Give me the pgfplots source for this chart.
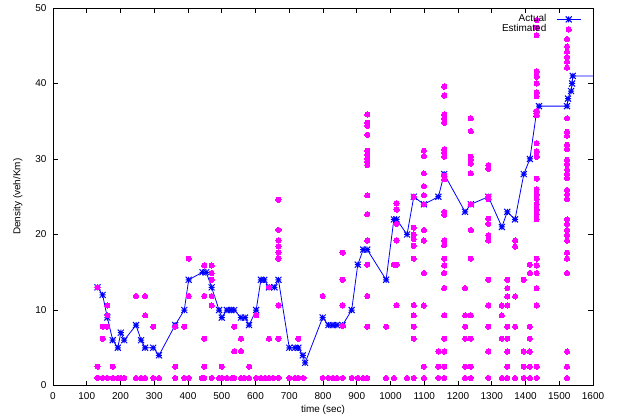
\documentclass[border=0pt]{standalone}
\usepackage{fontspec}
\setmainfont{Liberation Sans}
\usepackage{pgfplots}
\pgfplotsset{compat=1.18}
\definecolor{gpblue}{RGB}{0,0,255}
\definecolor{gpmag}{RGB}{255,0,255}
\pgfdeclareplotmark{gpstar}{%
  \pgfpathmoveto{\pgfqpoint{-\pgfplotmarksize}{0pt}}%
  \pgfpathlineto{\pgfqpoint{\pgfplotmarksize}{0pt}}%
  \pgfpathmoveto{\pgfqpoint{0pt}{-\pgfplotmarksize}}%
  \pgfpathlineto{\pgfqpoint{0pt}{\pgfplotmarksize}}%
  \pgfpathmoveto{\pgfqpoint{-\pgfplotmarksize}{-\pgfplotmarksize}}%
  \pgfpathlineto{\pgfqpoint{\pgfplotmarksize}{\pgfplotmarksize}}%
  \pgfpathmoveto{\pgfqpoint{-\pgfplotmarksize}{\pgfplotmarksize}}%
  \pgfpathlineto{\pgfqpoint{\pgfplotmarksize}{-\pgfplotmarksize}}%
  \pgfusepathqstroke}
\begin{document}
\begin{tikzpicture}[font=\fontsize{10pt}{12pt}\selectfont]
\begin{axis}[
  at={(0,0)}, anchor=south west,
  scale only axis, width=540bp, height=377.5bp,
  xmin=0, xmax=1600, ymin=0, ymax=50,
  xtick={0,100,...,1600}, ytick={0,10,...,50},
  tick align=inside, major tick length=5bp,
  axis line style={black, line width=0.8bp},
  tick style={black, line width=0.6bp},
  /pgf/number format/assume math mode=true,
  /pgf/number format/1000 sep={},
  xticklabel style={anchor=north, inner sep=0pt, yshift=-6.5bp},
  yticklabel style={anchor=east, inner sep=0pt, xshift=-6.3bp},
  xlabel={time (sec)}, ylabel={Density (veh/Km)},
  every axis x label/.style={at={(axis description cs:0.5,-0.0649)}, anchor=center},
  every axis y label/.style={at={(axis description cs:-0.0654,0.5)}, rotate=90, anchor=center},
  legend style={draw=none, fill=none, at={(axis description cs:0.978,0.983)}, anchor=north east,
    inner sep=0pt, outer sep=0pt, row sep=0pt, column sep=10bp,
    nodes={inner sep=0pt, text height=7bp, text depth=3bp},
    font=\fontsize{10pt}{12pt}\selectfont},
  legend cell align=right, legend plot pos=right,
  legend image code/.code={\draw[mark repeat=2,mark phase=2] plot coordinates {(0bp,0bp)(12bp,0bp)(24bp,0bp)};},
]
\addplot[gpblue, line width=0.8bp, mark=gpstar, mark size=3bp, mark options={solid, line width=1bp}] table {
t v
132 13
147 12
161 9
177 6
192 5
201 7
211 6
246 8
261 6
273 5
297 5
314 4
362 8
389 10
402 14
443 15
454 15
470 13
492 10
500 9
515 10
527 10
537 10
557 9
569 9
581 8
602 10
616 14
626 14
640 13
656 13
668 14
700 5
717 5
727 5
740 4
747 3
799 9
816 8
829 8
841 8
858 8
885 10
903 16
919 18
931 18
987 14
1010 22
1018 22
1049 20
1069 25
1099 24
1142 25
1159 28
1221 23
1238 24
1290 25
1330 21
1346 23
1369 22
1395 28
1413 30
1432 36
1440 37
1523 37
1526 38
1535 39
1538 40
1540 41
1650 41
};
\addlegendentry{Actual}
\addplot[only marks, mark=*, mark size=2.6bp, gpmag, mark options={draw=gpmag, fill=gpmag, line width=0pt}] table {
t v
132 13
132 2.5
132 1
147 7.8
147 6.2
147 1
161 10.6
161 9.3
161 7.8
161 1
177 2.5
177 1
192 1
201 1
211 1
246 11.85
246 1
261 1
273 11.85
273 9.3
273 1
297 7.8
297 1
314 1
362 7.8
362 2.5
362 1
389 7.8
389 1
402 16.8
402 11.85
402 1
441 1
448 15.9
448 11.85
448 6.2
448 2.5
448 1
470 15.9
470 14.9
470 14.0
470 11.85
470 10.6
470 1
492 1
500 2.5
500 1
515 1
530 1
537 7.8
537 4.55
537 1
557 6.2
557 4.55
557 1
567 1
581 2.5
581 1
602 9.3
602 1
616 1
629 1
640 13
640 6.2
640 1
653 1
668 24.6
668 20.6
668 19.2
668 18.4
668 17.6
668 16.8
668 10.6
668 6.2
668 1
700 1
717 1
727 6.2
727 1
742 1
799 11.85
799 1
816 1
829 1
841 1
858 17.6
858 14.0
858 10.6
858 7.9
858 1
885 1
903 1
919 1
931 35.9
931 34.8
931 34.4
931 33.2
931 31.1
931 30.6
931 30.1
931 29.7
931 29.2
931 25.2
931 22.7
931 19.2
931 16.0
931 11.85
931 7.8
931 1
987 7.8
987 1
1010 16.0
1010 1
1018 24.1
1018 23.3
1018 21.4
1018 19.2
1018 16.0
1018 10.65
1049 1
1069 25
1069 20.9
1069 20.0
1069 19.4
1069 18.5
1069 16.8
1069 10.65
1069 9.3
1069 7.8
1069 6.2
1069 1
1099 31.1
1099 30.4
1099 28.1
1099 26.4
1099 25.2
1099 24.0
1099 20.6
1099 19.2
1099 14.9
1099 10.6
1099 2.5
1099 1
1142 4.5
1142 2.5
1142 1
1159 39.6
1159 38.4
1159 35.9
1159 35.4
1159 34.8
1159 31.3
1159 30.9
1159 30.3
1159 27.8
1159 27.3
1159 23.0
1159 22.6
1159 19.2
1159 18.6
1159 16.8
1159 15.9
1159 14.9
1159 12.9
1159 9.3
1159 6.2
1159 4.5
1159 2.5
1159 1
1221 12.9
1221 9.3
1221 7.8
1221 6.2
1221 2.5
1221 1
1238 35.4
1238 33.7
1238 30.3
1238 29.9
1238 29.4
1238 28.1
1238 24.0
1238 20.6
1238 16.8
1238 9.3
1238 6.2
1238 2.5
1238 1
1290 29.2
1290 28.7
1290 25.0
1290 24.7
1290 22.1
1290 21.4
1290 19.9
1290 19.2
1290 14.0
1290 10.6
1290 7.8
1290 4.5
1290 1
1330 10.6
1330 9.3
1330 6.2
1330 1
1346 14.0
1346 12.9
1346 11.8
1346 10.6
1346 7.8
1346 6.2
1346 4.5
1346 2.5
1346 1
1369 19.2
1369 18.4
1369 11.8
1369 7.8
1369 1
1395 14.0
1395 4.5
1395 2.5
1395 1
1413 16.0
1413 14.9
1413 7.8
1413 6.2
1413 4.5
1413 2.5
1413 1
1433 48.4
1433 47.4
1433 46.4
1433 41.6
1433 40.9
1433 40.0
1433 38.8
1433 38.3
1433 36.3
1433 35.8
1433 32.1
1433 31.0
1433 30.3
1433 27.4
1433 26.0
1433 25.3
1433 24.7
1433 24.0
1433 23.3
1433 22.7
1433 22.0
1433 16.8
1433 15.9
1433 14.9
1433 12.9
1433 10.6
1433 2.5
1433 1
1523 45.9
1523 44.9
1523 44.2
1523 43.5
1523 42.9
1523 42.1
1523 35.4
1523 33.6
1523 33.1
1523 31.9
1523 31.3
1523 29.9
1523 29.3
1523 28.6
1523 28.0
1523 27.5
1523 25.9
1523 25.3
1523 24.7
1523 22.0
1523 21.4
1523 20.6
1523 19.9
1523 19.2
1523 17.6
1523 16.8
1523 14.9
1523 4.5
1523 2.5
1523 1
};
\addlegendentry{Estimated}
\end{axis}
\pgfresetboundingbox
\path[use as bounding box] (-53bp,-34.5bp) rectangle (565bp,385.5bp);
\end{tikzpicture}
\end{document}
